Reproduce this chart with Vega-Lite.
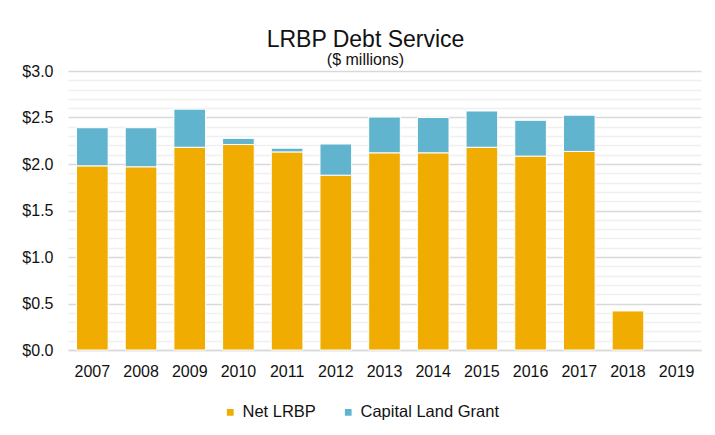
{
  "$schema": "https://vega.github.io/schema/vega-lite/v6.json",
  "autosize": {"type": "none"},
  "width": 633,
  "height": 279,
  "padding": {"left": 68, "top": 71, "right": 14, "bottom": 85},
  "background": "white",
  "title": {
    "text": "LRBP Debt Service",
    "subtitle": "($ millions)",
    "anchor": "middle",
    "dx": -19,
    "offset": -5,
    "font": "Liberation Sans",
    "fontSize": 23,
    "fontWeight": "normal",
    "color": "#111111",
    "subtitleFont": "Liberation Sans",
    "subtitleFontSize": 16,
    "subtitleColor": "#111111",
    "subtitlePadding": 0
  },
  "data": {
    "values": [
      {"year": "2007", "series": "Net LRBP", "value": 1.98},
      {"year": "2007", "series": "Capital Land Grant", "value": 0.41},
      {"year": "2008", "series": "Net LRBP", "value": 1.97},
      {"year": "2008", "series": "Capital Land Grant", "value": 0.42},
      {"year": "2009", "series": "Net LRBP", "value": 2.18},
      {"year": "2009", "series": "Capital Land Grant", "value": 0.41},
      {"year": "2010", "series": "Net LRBP", "value": 2.21},
      {"year": "2010", "series": "Capital Land Grant", "value": 0.065},
      {"year": "2011", "series": "Net LRBP", "value": 2.13},
      {"year": "2011", "series": "Capital Land Grant", "value": 0.04},
      {"year": "2012", "series": "Net LRBP", "value": 1.88},
      {"year": "2012", "series": "Capital Land Grant", "value": 0.335},
      {"year": "2013", "series": "Net LRBP", "value": 2.12},
      {"year": "2013", "series": "Capital Land Grant", "value": 0.385},
      {"year": "2014", "series": "Net LRBP", "value": 2.12},
      {"year": "2014", "series": "Capital Land Grant", "value": 0.38},
      {"year": "2015", "series": "Net LRBP", "value": 2.18},
      {"year": "2015", "series": "Capital Land Grant", "value": 0.39},
      {"year": "2016", "series": "Net LRBP", "value": 2.085},
      {"year": "2016", "series": "Capital Land Grant", "value": 0.385},
      {"year": "2017", "series": "Net LRBP", "value": 2.135},
      {"year": "2017", "series": "Capital Land Grant", "value": 0.39},
      {"year": "2018", "series": "Net LRBP", "value": 0.42},
      {"year": "2018", "series": "Capital Land Grant", "value": 0},
      {"year": "2019", "series": "Net LRBP", "value": 0},
      {"year": "2019", "series": "Capital Land Grant", "value": 0}
    ]
  },
  "mark": {"type": "bar", "strokeWidth": 1},
  "encoding": {
    "x": {
      "field": "year",
      "type": "ordinal",
      "scale": {"paddingInner": 0.35, "paddingOuter": 0.175},
      "axis": {
        "title": null,
        "labelAngle": 0,
        "labelFont": "Liberation Sans",
        "labelFontSize": 16,
        "labelColor": "#111111",
        "labelPadding": 13,
        "ticks": false,
        "domain": true,
        "domainColor": "#d9d9d9",
        "domainWidth": 1.5
      }
    },
    "y": {
      "field": "value",
      "type": "quantitative",
      "stack": "zero",
      "scale": {"domain": [0, 3], "nice": false},
      "axis": {
        "title": null,
        "values": [0, 0.1, 0.2, 0.3, 0.4, 0.5, 0.6, 0.7, 0.8, 0.9, 1.0, 1.1, 1.2, 1.3, 1.4, 1.5, 1.6, 1.7, 1.8, 1.9, 2.0, 2.1, 2.2, 2.3, 2.4, 2.5, 2.6, 2.7, 2.8, 2.9, 3.0],
        "labelExpr": "abs(datum.value * 2 - round(datum.value * 2)) < 0.001 ? '$' + format(datum.value, '.1f') : ''",
        "labelFont": "Liberation Sans",
        "labelFontSize": 16,
        "labelColor": "#111111",
        "labelPadding": 15,
        "ticks": false,
        "domain": false,
        "grid": true,
        "gridColor": {
          "condition": {"test": "abs(datum.value * 2 - round(datum.value * 2)) < 0.001", "value": "#d9d9d9"},
          "value": "#f0f0f0"
        },
        "gridWidth": 1.5
      }
    },
    "color": {
      "field": "series",
      "type": "nominal",
      "scale": {"domain": ["Net LRBP", "Capital Land Grant"], "range": ["#F0AC00", "#60B4CE"]},
      "legend": {
        "title": null,
        "orient": "none",
        "legendX": 154,
        "legendY": 333,
        "direction": "horizontal",
        "symbolType": "square",
        "symbolSize": 45,
        "symbolStrokeWidth": 0,
        "labelFont": "Liberation Sans",
        "labelFontSize": 16.5,
        "labelColor": "#111111",
        "labelOffset": 4,
        "columnPadding": 24
      }
    },
    "order": {"field": "series", "sort": "descending"},
    "stroke": {
      "condition": {"test": "datum.value > 0", "value": "#ffffff"},
      "value": null
    }
  },
  "config": {
    "view": {"stroke": null}
  }
}
